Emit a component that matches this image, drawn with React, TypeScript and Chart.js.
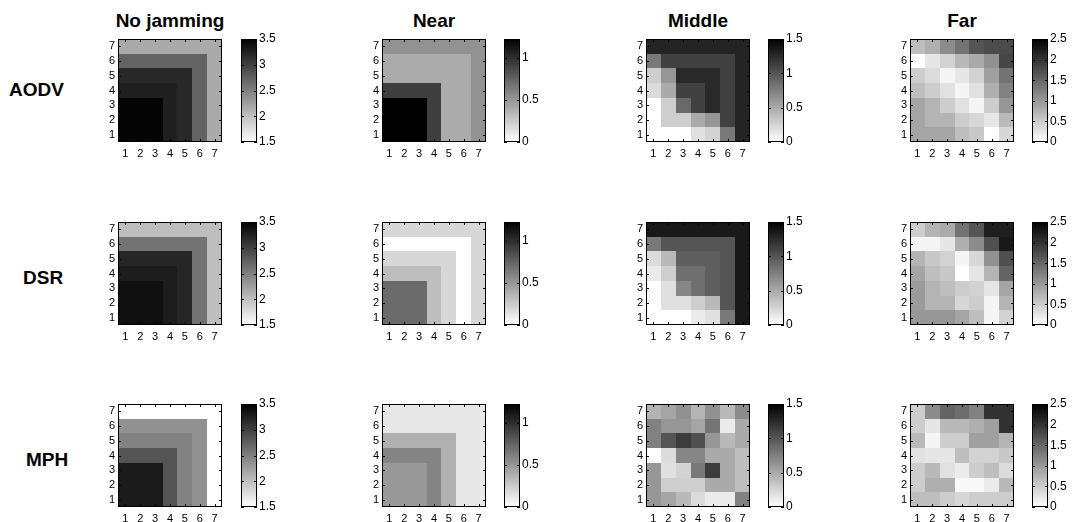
import React, { useEffect, useRef } from "react";
import { Chart, registerables } from "chart.js";

Chart.register(...registerables);

// ---------------- data ----------------
const jammingLevels = ["No jamming", "Near", "Middle", "Far"];
const protocols = ["AODV", "DSR", "MPH"];
const gridTicks = [1, 2, 3, 4, 5, 6, 7];
const colorMin = [1.5, 0, 0, 0];
const colorMax = [3.5, 1.22, 1.5, 2.5];
const colorbarTicks = [
  [1.5, 2, 2.5, 3, 3.5],
  [0, 0.5, 1],
  [0, 0.5, 1, 1.5],
  [0, 0.5, 1, 1.5, 2, 2.5],
];

// each matrix: rows listed from y = 7 (top) down to y = 1 (bottom), columns x = 1..7
const aodvNoJamming = [
  [2.17, 2.17, 2.17, 2.17, 2.17, 2.17, 2.17],
  [2.72, 2.72, 2.72, 2.72, 2.72, 2.72, 2.17],
  [3.19, 3.19, 3.19, 3.19, 3.19, 2.72, 2.17],
  [3.26, 3.26, 3.26, 3.26, 3.19, 2.72, 2.17],
  [3.46, 3.46, 3.46, 3.26, 3.19, 2.72, 2.17],
  [3.46, 3.46, 3.46, 3.26, 3.19, 2.72, 2.17],
  [3.46, 3.46, 3.46, 3.26, 3.19, 2.72, 2.17],
];
const dsrNoJamming = [
  [2.01, 2.01, 2.01, 2.01, 2.01, 2.01, 2.01],
  [2.6, 2.6, 2.6, 2.6, 2.6, 2.6, 2.01],
  [3.2, 3.2, 3.2, 3.2, 3.2, 2.6, 2.01],
  [3.28, 3.28, 3.28, 3.28, 3.2, 2.6, 2.01],
  [3.38, 3.38, 3.38, 3.28, 3.2, 2.6, 2.01],
  [3.38, 3.38, 3.38, 3.28, 3.2, 2.6, 2.01],
  [3.38, 3.38, 3.38, 3.28, 3.2, 2.6, 2.01],
];
const mphNoJamming = [
  [1.5, 1.5, 1.5, 1.5, 1.5, 1.5, 1.5],
  [2.36, 2.36, 2.36, 2.36, 2.36, 2.36, 1.5],
  [2.48, 2.48, 2.48, 2.48, 2.48, 2.36, 1.5],
  [2.83, 2.83, 2.83, 2.83, 2.48, 2.36, 1.5],
  [3.3, 3.3, 3.3, 2.83, 2.48, 2.36, 1.5],
  [3.3, 3.3, 3.3, 2.83, 2.48, 2.36, 1.5],
  [3.3, 3.3, 3.3, 2.83, 2.48, 2.36, 1.5],
];
const aodvNear = [
  [0.52, 0.52, 0.52, 0.52, 0.52, 0.52, 0.52],
  [0.4, 0.4, 0.4, 0.4, 0.4, 0.4, 0.52],
  [0.4, 0.4, 0.4, 0.4, 0.4, 0.4, 0.52],
  [0.92, 0.92, 0.92, 0.92, 0.4, 0.4, 0.52],
  [1.22, 1.22, 1.22, 0.92, 0.4, 0.4, 0.52],
  [1.22, 1.22, 1.22, 0.92, 0.4, 0.4, 0.52],
  [1.22, 1.22, 1.22, 0.92, 0.4, 0.4, 0.52],
];
const dsrNear = [
  [0.19, 0.19, 0.19, 0.19, 0.19, 0.19, 0.19],
  [0, 0, 0, 0, 0, 0, 0.19],
  [0.19, 0.19, 0.19, 0.19, 0.19, 0, 0.19],
  [0.31, 0.31, 0.31, 0.31, 0.19, 0, 0.19],
  [0.71, 0.71, 0.71, 0.31, 0.19, 0, 0.19],
  [0.71, 0.71, 0.71, 0.31, 0.19, 0, 0.19],
  [0.71, 0.71, 0.71, 0.31, 0.19, 0, 0.19],
];
const mphNear = [
  [0.11, 0.11, 0.11, 0.11, 0.11, 0.11, 0.11],
  [0.11, 0.11, 0.11, 0.11, 0.11, 0.11, 0.11],
  [0.38, 0.38, 0.38, 0.38, 0.38, 0.11, 0.11],
  [0.59, 0.59, 0.59, 0.59, 0.38, 0.11, 0.11],
  [0.49, 0.49, 0.49, 0.59, 0.38, 0.11, 0.11],
  [0.49, 0.49, 0.49, 0.59, 0.38, 0.11, 0.11],
  [0.49, 0.49, 0.49, 0.59, 0.38, 0.11, 0.11],
];
const aodvMiddle = [
  [1.29, 1.29, 1.29, 1.29, 1.29, 1.29, 1.29],
  [0.79, 1.12, 1.12, 1.12, 1.12, 1.12, 1.29],
  [0.29, 0.62, 1.26, 1.26, 1.26, 1.12, 1.29],
  [0.21, 0.5, 1.12, 1.12, 1.26, 1.12, 1.29],
  [0, 0.29, 0.88, 1.12, 1.26, 1.12, 1.29],
  [0, 0.29, 0.29, 0.5, 0.62, 1.12, 1.29],
  [0, 0, 0, 0.18, 0.26, 0.79, 1.29],
];
const dsrMiddle = [
  [1.35, 1.35, 1.35, 1.35, 1.35, 1.35, 1.35],
  [0.79, 1.0, 1.0, 1.0, 1.0, 1.0, 1.35],
  [0.21, 0.41, 0.94, 0.94, 0.94, 1.0, 1.35],
  [0.12, 0.29, 0.85, 0.85, 0.94, 1.0, 1.35],
  [0, 0.18, 0.71, 0.85, 0.94, 1.0, 1.35],
  [0, 0.18, 0.18, 0.29, 0.41, 1.0, 1.35],
  [0, 0, 0, 0.12, 0.18, 0.79, 1.35],
];
const mphMiddle = [
  [0.44, 0.53, 0.65, 0.44, 0.65, 0.41, 0.68],
  [0.74, 0.62, 0.62, 0.53, 0.82, 0.12, 0.5],
  [0.74, 1.0, 1.15, 1.03, 0.62, 0.41, 0.5],
  [0, 0.21, 0.71, 0.71, 0.5, 0.5, 0.38],
  [0.62, 0.18, 0.26, 0.79, 1.15, 0.5, 0.38],
  [0.62, 0.29, 0.29, 0.29, 0.5, 0.5, 0.38],
  [0.62, 0.53, 0.41, 0.21, 0.12, 0.12, 0.74],
];
const aodvFar = [
  [0.64, 0.78, 1.13, 1.37, 1.67, 1.76, 1.76],
  [0, 0.25, 0.44, 0.69, 0.83, 1.08, 1.81],
  [0.49, 0.34, 0.1, 0.25, 0.44, 0.93, 1.37],
  [0.64, 0.49, 0.29, 0.1, 0.29, 0.78, 1.23],
  [0.88, 0.74, 0.49, 0.29, 0.1, 0.49, 1.03],
  [0.88, 0.74, 0.74, 0.49, 0.39, 0.25, 0.69],
  [0.88, 0.88, 0.88, 0.64, 0.54, 0, 0.39],
];
const dsrFar = [
  [0.49, 0.74, 0.83, 1.37, 1.67, 2.21, 2.21],
  [0.1, 0.1, 0.25, 0.78, 1.13, 1.72, 2.25],
  [0.74, 0.54, 0.44, 0.1, 0.39, 1.08, 1.72],
  [0.88, 0.64, 0.54, 0, 0.25, 0.74, 1.52],
  [0.98, 0.74, 0.64, 0.49, 0.44, 0.25, 0.88],
  [0.98, 0.74, 0.74, 0.39, 0.49, 0.1, 0.74],
  [1.03, 1.03, 1.03, 0.88, 0.64, 0.1, 0.44],
];
const mphFar = [
  [0.49, 1.13, 1.52, 1.42, 1.23, 2.01, 2.01],
  [0.49, 0.25, 0.69, 0.69, 0.78, 0.93, 2.01],
  [0.69, 0.1, 0.49, 0.49, 0.93, 0.93, 0.74],
  [0.29, 0.25, 0.25, 0.64, 0.44, 0.44, 0.54],
  [0.49, 0.69, 0.29, 0.2, 0.49, 0.64, 0.34],
  [0.49, 0.78, 0.78, 0.07, 0.07, 0.2, 0.69],
  [0.64, 0.64, 0.49, 0.39, 0.49, 0.49, 0.49],
];

const matrices = [
  [aodvNoJamming, aodvNear, aodvMiddle, aodvFar],
  [dsrNoJamming, dsrNear, dsrMiddle, dsrFar],
  [mphNoJamming, mphNear, mphMiddle, mphFar],
];

// ---------------- layout ----------------
const FONT = "'Liberation Sans', Arial, Helvetica, sans-serif";
const heatLeft = [118, 382, 646, 910];
const barLeft = [241, 504, 768, 1032];
const rowTop = [39, 222, 404];
const HEAT_W = 104;
const HEAT_H = 103;
const BAR_W = 16;
const labelPos = [
  { left: 9, top: 80 },
  { left: 23, top: 268 },
  { left: 26, top: 450 },
];

function grayFor(v: number, mn: number, mx: number) {
  let t = (v - mn) / (mx - mn);
  t = Math.max(0, Math.min(1, t));
  const g = Math.round(255 * (1 - t));
  return `rgb(${g},${g},${g})`;
}

function drawFrame(chart: any, xTicks: number[] | null, yTicks: number[]) {
  const { ctx, chartArea } = chart;
  const { left, top, right, bottom } = chartArea;
  ctx.save();
  ctx.strokeStyle = "#000";
  ctx.lineWidth = 1;
  const tl = 3;
  ctx.beginPath();
  if (xTicks) {
    const xs = chart.scales.x;
    for (const v of xTicks) {
      const px = Math.round(xs.getPixelForValue(v)) + 0.5;
      ctx.moveTo(px, bottom);
      ctx.lineTo(px, bottom - tl);
      ctx.moveTo(px, top);
      ctx.lineTo(px, top + tl);
    }
  }
  const ys = chart.scales.y;
  for (const v of yTicks) {
    const py = Math.round(ys.getPixelForValue(v)) + 0.5;
    ctx.moveTo(left, py);
    ctx.lineTo(left + tl, py);
    ctx.moveTo(right, py);
    ctx.lineTo(right - tl, py);
  }
  ctx.stroke();
  ctx.strokeRect(left + 0.5, top + 0.5, right - left - 1, bottom - top - 1);
  ctx.restore();
}

const cellPlugin = {
  id: "cells",
  beforeDatasetsDraw(chart: any, _args: any, opts: any) {
    const { ctx } = chart;
    const xs = chart.scales.x;
    const ys = chart.scales.y;
    const data = chart.data.datasets[0].data;
    ctx.save();
    for (const p of data) {
      const x0 = Math.round(xs.getPixelForValue(p.x - 0.5));
      const x1 = Math.round(xs.getPixelForValue(p.x + 0.5));
      const y0 = Math.round(ys.getPixelForValue(p.y + 0.5));
      const y1 = Math.round(ys.getPixelForValue(p.y - 0.5));
      ctx.fillStyle = grayFor(p.v, opts.min, opts.max);
      ctx.fillRect(x0, y0, x1 - x0, y1 - y0);
    }
    ctx.restore();
  },
  afterDatasetsDraw(chart: any) {
    drawFrame(chart, gridTicks, gridTicks);
  },
};

const colorbarPlugin = {
  id: "colorbar",
  beforeDatasetsDraw(chart: any, _args: any, opts: any) {
    const { ctx, chartArea } = chart;
    const ys = chart.scales.y;
    const yBottom = ys.getPixelForValue(opts.min);
    const yTop = ys.getPixelForValue(opts.max);
    const grad = ctx.createLinearGradient(0, yBottom, 0, yTop);
    grad.addColorStop(0, "rgb(255,255,255)");
    grad.addColorStop(1, "rgb(0,0,0)");
    ctx.save();
    ctx.fillStyle = grad;
    ctx.fillRect(chartArea.left, chartArea.top, chartArea.right - chartArea.left, chartArea.bottom - chartArea.top);
    ctx.restore();
  },
  afterDatasetsDraw(chart: any, _args: any, opts: any) {
    drawFrame(chart, null, opts.ticks);
  },
};

const tickFont = { family: FONT, size: 11 };
const barFont = { family: FONT, size: 12 };

function Heatmap({ matrix, col, left, top }: any) {
  const ref = useRef<HTMLCanvasElement | null>(null);
  useEffect(() => {
    const canvas = ref.current!;
    const points: any[] = [];
    matrix.forEach((row: number[], r: number) =>
      row.forEach((v: number, c: number) => points.push({ x: gridTicks[c], y: gridTicks[gridTicks.length - 1 - r], v }))
    );
    const chart = new Chart(canvas, {
      type: "scatter",
      data: { datasets: [{ data: points, pointRadius: 0, pointHoverRadius: 0 }] },
      options: {
        responsive: false,
        animation: false,
        events: [],
        layout: { padding: { top: 12, right: 12, left: 0, bottom: 0 } },
        plugins: {
          legend: { display: false },
          tooltip: { enabled: false },
          cells: { min: colorMin[col], max: colorMax[col] },
        } as any,
        scales: {
          x: {
            type: "linear",
            min: 0.5,
            max: 7.5,
            afterBuildTicks: (s: any) => {
              s.ticks = gridTicks.map((value) => ({ value }));
            },
            afterFit: (s: any) => {
              s.height = 24;
            },
            grid: { display: false, drawTicks: false, tickLength: 0 },
            border: { display: false },
            ticks: { font: tickFont, color: "#000", padding: 5, maxRotation: 0, autoSkip: false, callback: (v: any) => String(v) },
          },
          y: {
            type: "linear",
            min: 0.5,
            max: 7.5,
            afterBuildTicks: (s: any) => {
              s.ticks = gridTicks.map((value) => ({ value }));
            },
            afterFit: (s: any) => {
              s.width = 30;
            },
            grid: { display: false, drawTicks: false, tickLength: 0 },
            border: { display: false },
            ticks: { font: tickFont, color: "#000", padding: 3, autoSkip: false, callback: (v: any) => String(v) },
          },
        },
      },
      plugins: [cellPlugin],
    });
    const ca = chart.chartArea;
    canvas.style.left = `${left - ca.left}px`;
    canvas.style.top = `${top - ca.top}px`;
    return () => chart.destroy();
  }, []);
  return (
    <canvas
      ref={ref}
      width={30 + HEAT_W + 12}
      height={12 + HEAT_H + 24}
      style={{ position: "absolute", left: left - 30, top: top - 12, width: 30 + HEAT_W + 12, height: 12 + HEAT_H + 24 }}
    />
  );
}

function Colorbar({ col, left, top }: any) {
  const ref = useRef<HTMLCanvasElement | null>(null);
  useEffect(() => {
    const canvas = ref.current!;
    const ticks = colorbarTicks[col];
    const chart = new Chart(canvas, {
      type: "scatter",
      data: { datasets: [{ data: [], pointRadius: 0 }] },
      options: {
        responsive: false,
        animation: false,
        events: [],
        layout: { padding: { top: 12, right: 0, left: 0, bottom: 12 } },
        plugins: {
          legend: { display: false },
          tooltip: { enabled: false },
          colorbar: { min: colorMin[col], max: colorMax[col], ticks },
        } as any,
        scales: {
          x: { type: "linear", display: false, min: 0, max: 1 },
          y: {
            type: "linear",
            position: "right",
            min: colorMin[col],
            max: colorMax[col],
            afterBuildTicks: (s: any) => {
              s.ticks = ticks.map((value) => ({ value }));
            },
            afterFit: (s: any) => {
              s.width = 30;
            },
            grid: { display: false, drawTicks: false, tickLength: 0 },
            border: { display: false },
            ticks: { font: barFont, color: "#000", padding: 2, autoSkip: false, callback: (v: any) => String(v) },
          },
        },
      },
      plugins: [colorbarPlugin],
    });
    const ca = chart.chartArea;
    canvas.style.left = `${left - ca.left}px`;
    canvas.style.top = `${top - ca.top}px`;
    return () => chart.destroy();
  }, []);
  return (
    <canvas
      ref={ref}
      width={BAR_W + 30}
      height={12 + HEAT_H + 12}
      style={{ position: "absolute", left, top: top - 12, width: BAR_W + 30, height: 12 + HEAT_H + 12 }}
    />
  );
}

export default function App() {
  return (
    <div style={{ position: "absolute", left: 0, top: 0, width: 1072, height: 522, background: "#fff", overflow: "hidden", fontFamily: FONT }}>
      {jammingLevels.map((t, c) => (
        <div
          key={t}
          style={{
            position: "absolute",
            left: heatLeft[c] + HEAT_W / 2 - 100,
            top: 11,
            width: 200,
            textAlign: "center",
            fontSize: 19,
            lineHeight: "19px",
            fontWeight: "bold",
            color: "#000",
          }}
        >
          {t}
        </div>
      ))}
      {protocols.map((p, r) => (
        <div
          key={p}
          style={{
            position: "absolute",
            left: labelPos[r].left,
            top: labelPos[r].top,
            fontSize: 19,
            lineHeight: "19px",
            fontWeight: "bold",
            color: "#000",
            whiteSpace: "nowrap",
          }}
        >
          {p}
        </div>
      ))}
      {protocols.map((p, r) =>
        jammingLevels.map((j, c) => (
          <React.Fragment key={`${p}-${j}`}>
            <Heatmap matrix={matrices[r][c]} col={c} left={heatLeft[c]} top={rowTop[r]} />
            <Colorbar col={c} left={barLeft[c]} top={rowTop[r]} />
          </React.Fragment>
        ))
      )}
    </div>
  );
}
